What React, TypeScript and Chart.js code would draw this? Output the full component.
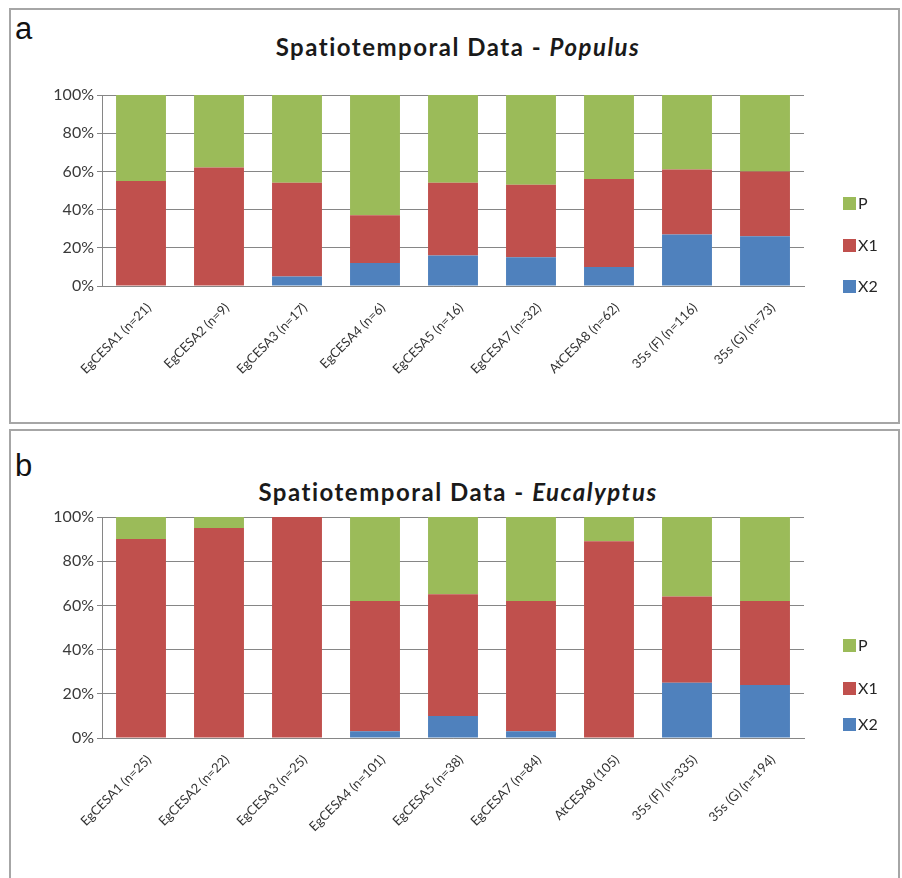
import React, { useEffect, useRef } from "react";
import { Chart, registerables } from "chart.js";
Chart.register(...registerables);

const yTickValues = [0, 20, 40, 60, 80, 100];
const seriesNames = ["X2", "X1", "P"];
const seriesColors = ["#4F81BD", "#C0504D", "#9BBB59"];

const populusLabels = [
  "EgCESA1 (n=21)", "EgCESA2 (n=9)", "EgCESA3 (n=17)", "EgCESA4 (n=6)", "EgCESA5 (n=16)",
  "EgCESA7 (n=32)", "AtCESA8 (n=62)", "35s (F) (n=116)", "35s (G) (n=73)",
];
const populusX2 = [0, 0, 5, 12, 16, 15, 10, 27, 26];
const populusX1 = [55, 62, 49, 25, 38, 38, 46, 34, 34];
const populusP = [45, 38, 46, 63, 46, 47, 44, 39, 40];

const eucalyptusLabels = [
  "EgCESA1 (n=25)", "EgCESA2 (n=22)", "EgCESA3 (n=25)", "EgCESA4 (n=101)", "EgCESA5 (n=38)",
  "EgCESA7 (n=84)", "AtCESA8 (105)", "35s (F) (n=335)", "35s (G) (n=194)",
];
const eucalyptusX2 = [0, 0, 0, 3, 10, 3, 0, 25, 24];
const eucalyptusX1 = [90, 95, 100, 59, 55, 59, 89, 39, 38];
const eucalyptusP = [10, 5, 0, 38, 35, 38, 11, 36, 38];

const FONT = "Lato, 'Noto Sans', sans-serif";
const GRID = "#868686";

type PanelProps = {
  labels: string[];
  series: number[][];
  canvasW: number;
  canvasH: number;
  padTop: number;
  plotBottom: number;
  yWidth: number;
  padRight: number;
  legendYs: number[];
  legendX: number;
};

function StackedChart(p: PanelProps) {
  const ref = useRef<HTMLCanvasElement | null>(null);
  useEffect(() => {
    if (!ref.current) return;
    const legendPlugin = {
      id: "customLegend",
      afterDraw(chart: any) {
        const ctx = chart.ctx;
        ctx.save();
        const order = [2, 1, 0];
        order.forEach((si, i) => {
          const y = p.legendYs[i];
          ctx.fillStyle = seriesColors[si];
          ctx.fillRect(p.legendX, y - 6, 13, 13);
          ctx.fillStyle = "#262626";
          ctx.font = `16px ${FONT}`;
          ctx.textBaseline = "middle";
          ctx.textAlign = "left";
          ctx.fillText(seriesNames[si], p.legendX + 15, y + 1);
        });
        ctx.restore();
      },
    };
    const chart = new Chart(ref.current, {
      type: "bar",
      data: {
        labels: p.labels,
        datasets: seriesNames.map((name, i) => ({
          label: name,
          data: p.series[i],
          backgroundColor: seriesColors[i],
          borderWidth: 0,
          categoryPercentage: 1,
          barPercentage: 0.64,
        })),
      },
      options: {
        responsive: false,
        animation: false,
        layout: { padding: { left: 0, right: p.padRight, top: p.padTop, bottom: 0 } },
        plugins: { legend: { display: false }, title: { display: false }, tooltip: { enabled: false } },
        scales: {
          x: {
            stacked: true,
            grid: { display: false },
            border: { display: true, color: GRID, width: 1 },
            ticks: {
              maxRotation: 45,
              minRotation: 45,
              autoSkip: false,
              color: "#333333",
              font: { family: FONT, size: 13 },
              padding: 6,
              labelOffset: 8,
            },
            afterFit(scale: any) {
              scale.height = p.canvasH - p.plotBottom;
            },
          },
          y: {
            stacked: true,
            min: 0,
            max: 100,
            afterBuildTicks(scale: any) {
              scale.ticks = yTickValues.map((v) => ({ value: v }));
            },
            grid: { color: GRID, lineWidth: 1, tickLength: 5, drawTicks: true, tickColor: GRID },
            border: { display: true, color: GRID, width: 1 },
            ticks: {
              color: "#3a3a3a",
              font: { family: FONT, size: 16 },
              padding: 3,
              callback: (v: any) => v + "%",
            },
            afterFit(scale: any) {
              scale.width = p.yWidth;
            },
          },
        },
      },
      plugins: [legendPlugin],
    });
    return () => chart.destroy();
  }, []);
  return <canvas ref={ref} width={p.canvasW} height={p.canvasH} style={{ display: "block" }} />;
}

const panelStyle: React.CSSProperties = {
  position: "absolute",
  left: 9,
  width: 891,
  border: "2px solid #a6a6a6",
  boxSizing: "border-box",
  background: "#fff",
};

const letterStyle: React.CSSProperties = {
  position: "absolute",
  left: 15,
  fontFamily: "'Liberation Sans', Arial, sans-serif",
  fontSize: 31,
  lineHeight: "31px",
  color: "#111",
};

const titleStyle: React.CSSProperties = {
  position: "absolute",
  left: 0,
  width: 916,
  textAlign: "center",
  fontFamily: FONT,
  fontWeight: 700,
  fontSize: 24,
  letterSpacing: 1.5,
  lineHeight: "24px",
  color: "#1a1a1a",
};

export default function App() {
  return (
    <div style={{ position: "absolute", left: 0, top: 0, width: 902, height: 878, overflow: "hidden", background: "#fff" }}>
      <div style={{ ...panelStyle, top: 8, height: 416 }} />
      <div style={{ ...letterStyle, top: 13 }}>a</div>
      <div style={{ ...titleStyle, top: 35 }}>
        Spatiotemporal Data - <i>Populus</i>
      </div>
      <div style={{ position: "absolute", left: 11, top: 66 }}>
        <StackedChart
          labels={populusLabels}
          series={[populusX2, populusX1, populusP]}
          canvasW={886}
          canvasH={355}
          padTop={29}
          plotBottom={220}
          yWidth={91}
          padRight={93}
          legendYs={[137, 179, 220]}
          legendX={832}
        />
      </div>

      <div style={{ ...panelStyle, top: 429, height: 470 }} />
      <div style={{ ...letterStyle, top: 450 }}>b</div>
      <div style={{ ...titleStyle, top: 480 }}>
        Spatiotemporal Data - <i>Eucalyptus</i>
      </div>
      <div style={{ position: "absolute", left: 11, top: 490 }}>
        <StackedChart
          labels={eucalyptusLabels}
          series={[eucalyptusX2, eucalyptusX1, eucalyptusP]}
          canvasW={886}
          canvasH={388}
          padTop={27}
          plotBottom={248}
          yWidth={91}
          padRight={93}
          legendYs={[155, 198, 234]}
          legendX={832}
        />
      </div>
    </div>
  );
}
